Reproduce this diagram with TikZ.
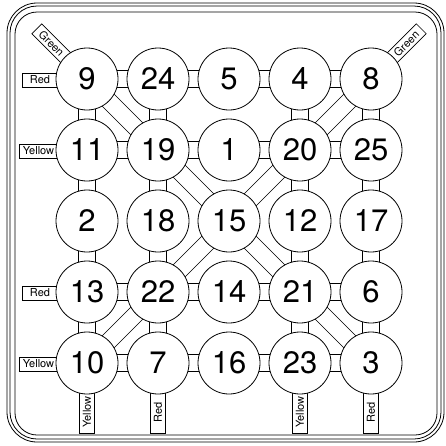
\documentclass[tikz,border=0pt]{standalone}
\usepackage{fontspec}
\setmainfont{TeX Gyre Heros}
\usetikzlibrary{backgrounds}
\tikzset{
  num/.style={circle, draw, line width=0.8pt, fill=white, minimum size=62pt, inner sep=0pt,
              font=\fontsize{31}{32}\selectfont},
  link/.style={draw=black, double=white, double distance=16pt, line width=0.7pt},
  tag/.style={draw, line width=0.7pt, fill=white, inner sep=0pt, minimum height=14pt,
              font=\fontsize{11}{12}\selectfont},
  frameline/.style={draw, line width=0.8pt}
}
\begin{document}
\begin{tikzpicture}[x=1pt,y=-1pt]
\useasboundingbox (0,0) rectangle (446,445);
% frame
\draw[frameline, rounded corners=30pt] (7,3) rectangle (444,442);
\draw[frameline, rounded corners=27pt] (10,6) rectangle (441,439);
\draw[frameline, rounded corners=22pt] (15,12) rectangle (437,435);
% numbered circles
\foreach \n/\c/\r in {9/1/1,24/2/1,5/3/1,4/4/1,8/5/1,
                      11/1/2,19/2/2,1/3/2,20/4/2,25/5/2,
                      2/1/3,18/2/3,15/3/3,12/4/3,17/5/3,
                      13/1/4,22/2/4,14/3/4,21/4/4,6/5/4,
                      10/1/5,7/2/5,16/3/5,23/4/5,3/5/5}
  \node[num] (n\n) at ({87+71*(\c-1)},{79+71*(\r-1)}) {\n};
\begin{pgfonlayer}{background}
% connectors
\foreach \a/\b in {9/24,24/5,5/4,4/8,
                   11/19,19/1,1/20,20/25,
                   13/22,22/14,14/21,21/6,
                   10/7,7/16,16/23,23/3,
                   9/11,11/2,2/13,13/10,
                   24/19,19/18,18/22,22/7,
                   4/20,20/12,12/21,21/23,
                   8/25,25/17,17/6,6/3,
                   9/19,19/15,8/20,20/15,15/22,22/10,15/21,21/3}
  \draw[link] (n\a.center) -- (n\b.center);
% tags
\node[tag, minimum width=36pt] (tagA) at (40,80) {Red};
\node[tag, minimum width=39pt] (tagB) at (38.5,151) {Yellow};
\node[tag, minimum width=36pt] (tagC) at (40,293) {Red};
\node[tag, minimum width=39pt] (tagD) at (38.5,364) {Yellow};
\node[tag, rotate=90, minimum width=42pt, minimum height=15pt] (tagE) at (87,412) {Yellow};
\node[tag, rotate=90, minimum width=42pt, minimum height=15pt] (tagF) at (158,412) {Red};
\node[tag, rotate=90, minimum width=42pt, minimum height=15pt] (tagG) at (300,412) {Yellow};
\node[tag, rotate=90, minimum width=42pt, minimum height=15pt] (tagH) at (371,412) {Red};
\node[tag, rotate=-45, minimum width=42pt] (tagI) at (51.6,43.6) {Green};
\node[tag, rotate=45, minimum width=42pt] (tagJ) at (406.4,43.6) {Green};
\end{pgfonlayer}
\end{tikzpicture}
\end{document}
